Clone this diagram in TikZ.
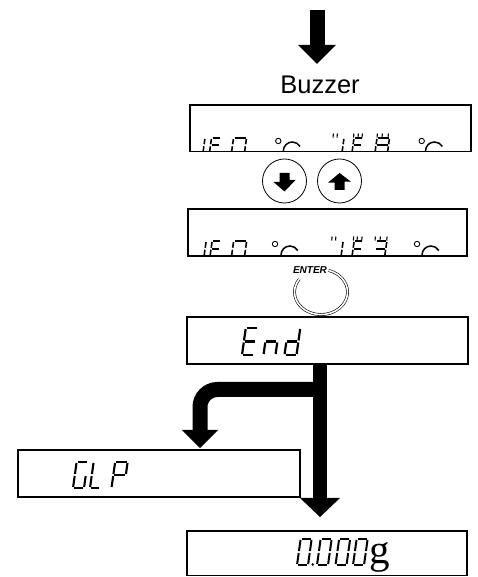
\documentclass[tikz,border=0pt]{standalone}
\usepackage{fontspec}
\setmainfont{Liberation Sans}
\newfontfamily\unitfont{Liberation Serif}
\usetikzlibrary{arrows.meta}

% seven-segment glyph: lower-left corner, width, height, stroke, segment list
\pgfkeys{
  /lcdseg/a/.code={\draw (\sgap,\segh) -- (\segw-\sgap,\segh);},
  /lcdseg/b/.code={\draw (\segw,\segh-\sgap) -- (\segw,\segh/2+\sgap);},
  /lcdseg/c/.code={\draw (\segw,\segh/2-\sgap) -- (\segw,\sgap);},
  /lcdseg/d/.code={\draw (\sgap,0) -- (\segw-\sgap,0);},
  /lcdseg/e/.code={\draw (0,\segh/2-\sgap) -- (0,\sgap);},
  /lcdseg/f/.code={\draw (0,\segh-\sgap) -- (0,\segh/2+\sgap);},
  /lcdseg/g/.code={\draw (\sgap,\segh/2) -- (\segw-\sgap,\segh/2);},
}
\newcommand\lcdglyph[6]{%
  \begin{scope}[shift={(#1,#2)}, xslant=0.14, line width=#5, line cap=butt]
    \def\segw{#3}\def\segh{#4}\def\sgap{1}%
    \foreach \s in {#6}{\pgfkeys{/lcdseg/\s}}
  \end{scope}}
% small degree-Celsius sign, cut off by the panel edge
\newcommand\degC[4]{% degree x, degree y, arc centre x, arc centre y
  \draw[line width=0.9pt] (#1,#2) circle[radius=2.7];
  \draw[line width=1.5pt] (#3,#4) ++(180:9) arc[start angle=180, end angle=30, radius=9];}
% flicker marks above a blinking digit
\newcommand\flick[2]{\draw[line width=1.1pt] (#1,#2) -- ++(0.4,4);}

\tikzset{
  x=1pt, y=1pt,
  panel/.style={draw=black, line width=1.4pt, inner sep=0pt, outer sep=0pt},
  keyring/.style={draw=black, circle, line width=0.8pt, minimum size=44pt, inner sep=0pt},
  fatarrow/.style n args={3}{line width=#1, line cap=butt,
    -{Triangle[length=#2, width=#3, line width=0pt]}},
}

\begin{document}
\begin{tikzpicture}
\useasboundingbox (0,0) rectangle (477,577);

% ---- entry arrow and buzzer ----
\coordinate (entry) at (317,567);
\coordinate (entrytip) at (317,513);
\draw[fatarrow={15pt}{19pt}{38pt}] (entry) -- (entrytip);
\node[font=\fontsize{25.5}{30}\selectfont, inner sep=0pt] (buzz) at (320,492) {Buzzer};

% ---- first display (lower edge of the digits hidden by the frame) ----
\lcdglyph{197}{424.5}{6}{14.5}{1.6pt}{b,c}
\lcdglyph{209.5}{424.5}{9}{14.5}{1.6pt}{a,f,e,g}
\lcdglyph{231.5}{424.5}{13}{14.5}{1.6pt}{a,b,c,e,f}
\degC{278.3}{436}{292.3}{426}
\lcdglyph{336}{424.5}{6}{14.5}{1.6pt}{b,c}
\lcdglyph{352}{424.5}{9}{14.5}{1.6pt}{a,f,e,g}
\lcdglyph{375}{424.5}{12.5}{14.5}{1.6pt}{a,b,c,e,f,g}
\foreach \x in {333,337,353.5,358,362,377,382,388} {\flick{\x}{439.5}}
\degC{421.7}{436}{434.5}{426}
\node[panel, minimum width=281pt, minimum height=46.5pt] (disp1) at (330.5,448.75) {};

% ---- up / down keys ----
\node[keyring] (keydown) at (284.5,396) {};
\node[keyring] (keyup) at (339.5,396) {};
\fill ([shift={(-5,8)}]keydown.center) -- ++(10,0) -- ++(0,-7) -- ++(6,0)
      -- ([shift={(0,-10.5)}]keydown.center) -- ++(-11,9.5) -- ++(6,0) -- cycle;
\fill ([shift={(-5,-9)}]keyup.center) -- ++(10,0) -- ++(0,8.3) -- ++(6.5,0)
      -- ([shift={(0,8)}]keyup.center) -- ++(-11.5,-9.7) -- ++(6.5,0) -- cycle;

% ---- second display ----
\lcdglyph{198}{320.5}{6}{15.5}{1.6pt}{b,c}
\lcdglyph{210}{320.5}{9}{15.5}{1.6pt}{a,f,e,g}
\lcdglyph{231.5}{320.5}{13}{15.5}{1.6pt}{a,b,c,e,f}
\degC{275}{333}{290}{322}
\lcdglyph{335}{320.5}{6}{15.5}{1.6pt}{b,c}
\lcdglyph{352}{320.5}{9}{15.5}{1.6pt}{a,f,e,g}
\lcdglyph{374}{320.5}{10.7}{15.5}{1.6pt}{a,b,g,c}
\foreach \x in {331.7,335.5,353.3,357,361.7,375,380,386.7} {\flick{\x}{336.5}}
\degC{417}{333}{431}{322}
\node[panel, minimum width=279pt, minimum height=47pt] (disp2) at (327.5,344.5) {};

% ---- ENTER key ----
\node[font=\bfseries\itshape\fontsize{10}{12}\selectfont, inner sep=0pt] (enter) at (310,307) {ENTER};
\draw[double, double distance=1.6pt, line width=0.6pt]
  (321,285) ++(145:26.5 and 22.6) arc[start angle=145, end angle=433, x radius=26.5, y radius=22.6];

% ---- End display ----
\node[panel, minimum width=281pt, minimum height=47pt] (enddisp) at (327.5,236.5) {};
\lcdglyph{242}{222}{12}{27}{2.2pt}{a,f,e,g,d}
\lcdglyph{263.5}{222}{12}{27}{2.2pt}{e,g,c}
\lcdglyph{284.5}{222}{12}{27}{2.2pt}{b,c,d,e,g}

% ---- GLP display ----
\node[panel, minimum width=282pt, minimum height=47pt] (glpdisp) at (159,103.5) {};
\lcdglyph{73}{89}{11}{26}{2.1pt}{a,f,e,d,c}
\lcdglyph{90}{89}{10}{26}{2.1pt}{f,e,d}
\lcdglyph{111.5}{89}{12.5}{26}{2.1pt}{a,b,f,g,e}

% ---- weighing display ----
\node[panel, minimum width=280pt, minimum height=44.5pt] (weighdisp) at (327,23.75) {};
\lcdglyph{297}{12}{11}{26}{2pt}{a,b,c,d,e,f}
\fill (312.8,12.5) circle[radius=1.4];
\lcdglyph{317}{12}{11}{26}{2pt}{a,b,c,d,e,f}
\lcdglyph{335.5}{12}{11}{26}{2pt}{a,b,c,d,e,f}
\lcdglyph{353}{12}{11}{26}{2pt}{a,b,c,d,e,f}
\node[font=\unitfont\fontsize{41}{50}\selectfont, inner sep=0pt, anchor=base west] (unit) at (369.5,13) {g};

% ---- branching arrows out of End ----
\coordinate (mtip) at (320,60);
\coordinate (fork) at (320,187.5);
\coordinate (gtip) at (200,129);
\draw[fatarrow={14pt}{19pt}{40pt}] (enddisp.south -| mtip) -- (mtip);
\draw[fatarrow={15pt}{18pt}{36.5pt}, rounded corners=17.5pt] (fork) -- (fork -| gtip) -- (gtip);
\end{tikzpicture}
\end{document}
